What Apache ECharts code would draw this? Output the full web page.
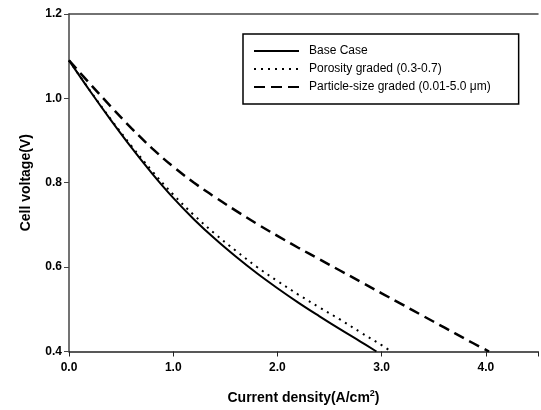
<!DOCTYPE html>
<html>
<head>
<meta charset="utf-8">
<script src="https://cdn.jsdelivr.net/npm/echarts@6/dist/echarts.min.js"></script>
<style>
  html, body { margin: 0; padding: 0; background: #fff; }
  #main { width: 541px; height: 410px; }
</style>
</head>
<body>
<div id="main"></div>
<script>
// 数据
const seriesNames = ['Base Case', 'Porosity graded (0.3-0.7)', 'Particle-size graded (0.01-5.0 μm)'];
const baseX = [0, 0.2, 0.4, 0.6, 0.8, 1.0, 1.2, 1.4, 1.6, 1.8, 2.0, 2.2, 2.4, 2.6, 2.8, 2.95];
const baseY = [1.09, 1.018, 0.949, 0.883, 0.821, 0.764, 0.713, 0.667, 0.625, 0.586, 0.550, 0.516, 0.484, 0.453, 0.423, 0.40];
const porosityX = [0, 0.2, 0.4, 0.6, 0.8, 1.0, 1.2, 1.4, 1.6, 1.8, 2.0, 2.2, 2.4, 2.6, 2.8, 3.0, 3.09];
const porosityY = [1.09, 1.019, 0.951, 0.887, 0.827, 0.772, 0.723, 0.679, 0.639, 0.601, 0.567, 0.535, 0.505, 0.476, 0.445, 0.415, 0.40];
const particleX = [0, 0.2, 0.4, 0.6, 0.8, 1.0, 1.2, 1.4, 1.6, 1.8, 2.0, 2.2, 2.4, 2.6, 2.8, 3.0, 3.2, 3.4, 3.6, 3.8, 4.03];
const particleY = [1.09, 1.035, 0.981, 0.929, 0.881, 0.838, 0.800, 0.766, 0.734, 0.703, 0.674, 0.646, 0.619, 0.592, 0.565, 0.538, 0.511, 0.484, 0.457, 0.430, 0.40];

const font = 'Liberation Sans, Arial, sans-serif';

function zip(xs, ys) {
  let out = [];
  for (let i = 0; i < xs.length; i++) {
    out.push([xs[i], ys[i]]);
  }
  return out;
}

const chart = echarts.init(document.getElementById('main'));

chart.setOption({
  animation: false,
  backgroundColor: '#fff',
  grid: {
    left: 69,
    top: 14,
    right: 0,
    bottom: 55
  },
  legend: {
    orient: 'vertical',
    left: 243,
    top: 34,
    padding: [11, 28, 11, 10],
    itemGap: 6,
    itemWidth: 45,
    itemHeight: 12,
    borderColor: '#000',
    borderWidth: 1.5,
    borderRadius: 0,
    data: seriesNames,
    itemStyle: { opacity: 0 },
    textStyle: {
      fontFamily: font,
      fontSize: 12,
      color: '#000',
      padding: [0, 0, 0, 5]
    }
  },
  xAxis: [
    {
      type: 'value',
      min: 0,
      max: 4.5,
      interval: 1,
      name: 'Current density(A/cm{sup|2})',
      nameLocation: 'middle',
      nameGap: 38,
      nameTextStyle: {
        fontFamily: font,
        fontSize: 14,
        fontWeight: 'bold',
        color: '#000',
        rich: {
          sup: {
            fontFamily: font,
            fontSize: 9,
            fontWeight: 'bold',
            verticalAlign: 'top',
            padding: [0, 0, 8, 0]
          }
        }
      },
      axisLine: { lineStyle: { color: '#222', width: 1.5 } },
      axisTick: { show: true, length: 5, lineStyle: { color: '#222' } },
      splitLine: { show: false },
      axisLabel: {
        fontFamily: font,
        fontSize: 12,
        fontWeight: 'bold',
        color: '#000',
        margin: 10,
        formatter: function (v) {
          if (v > 4) return '';
          return v.toFixed(1);
        }
      }
    },
    {
      type: 'value',
      position: 'top',
      min: 0,
      max: 4.5,
      axisLine: { show: true, lineStyle: { color: '#444', width: 1.5 } },
      axisTick: { show: false },
      axisLabel: { show: false },
      splitLine: { show: false }
    }
  ],
  yAxis: {
    type: 'value',
    min: 0.4,
    max: 1.2,
    interval: 0.2,
    name: 'Cell voltage(V)',
    nameLocation: 'middle',
    nameGap: 36,
    nameTextStyle: {
      fontFamily: font,
      fontSize: 14,
      fontWeight: 'bold',
      color: '#000'
    },
    axisLine: { show: true, lineStyle: { color: '#444', width: 1.5 } },
    axisTick: { show: true, length: 5, lineStyle: { color: '#444' } },
    splitLine: { show: false },
    axisLabel: {
      fontFamily: font,
      fontSize: 12,
      fontWeight: 'bold',
      color: '#000',
      margin: 7,
      formatter: function (v) {
        return v.toFixed(1);
      }
    }
  },
  series: [
    {
      name: seriesNames[0],
      type: 'line',
      smooth: 0.4,
      symbol: 'none',
      data: zip(baseX, baseY),
      lineStyle: { color: '#000', width: 2 },
      itemStyle: { color: '#000' }
    },
    {
      name: seriesNames[1],
      type: 'line',
      smooth: 0.4,
      symbol: 'none',
      data: zip(porosityX, porosityY),
      lineStyle: { color: '#000', width: 2, type: [2, 5] },
      itemStyle: { color: '#000' }
    },
    {
      name: seriesNames[2],
      type: 'line',
      smooth: 0.4,
      symbol: 'none',
      data: zip(particleX, particleY),
      lineStyle: { color: '#000', width: 2.5, type: [11, 6] },
      itemStyle: { color: '#000' }
    }
  ]
});
</script>
</body>
</html>
